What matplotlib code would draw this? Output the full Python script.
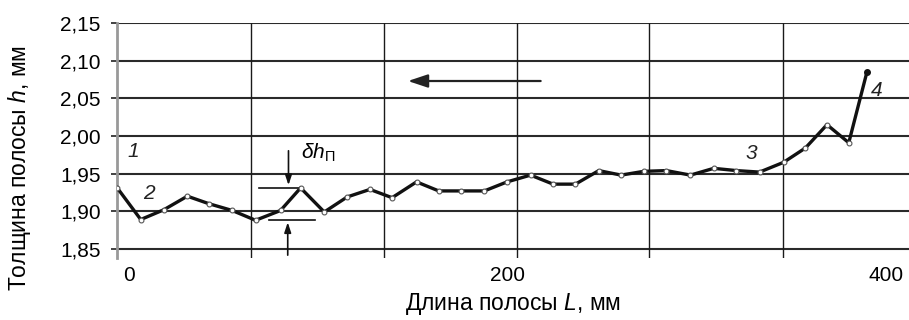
import matplotlib
matplotlib.use('Agg')
import matplotlib.pyplot as plt
from matplotlib.ticker import FixedLocator, FuncFormatter

plt.rcParams['font.family'] = ['Liberation Sans', 'DejaVu Sans']
plt.rcParams['mathtext.fontset'] = 'custom'
plt.rcParams['mathtext.rm'] = 'Liberation Sans'
plt.rcParams['mathtext.it'] = 'Liberation Sans:italic'

# strip length, mm and thickness, mm
length_mm = [-6, 6.4, 18.6, 31.0, 42.4, 54.7, 67.0, 80.2, 90.8, 103.3, 115.4,
             127.4, 139.1, 152.0, 163.7, 175.7, 187.8, 199.8, 212.2, 224.1,
             235.9, 248.2, 260.0, 271.9, 283.9, 296.6, 308.9, 320.9, 333.1,
             345.8, 357.3, 368.7, 380.2, 389.8]
thickness = [1.931, 1.889, 1.902, 1.920, 1.910, 1.901, 1.888, 1.901, 1.931,
             1.899, 1.919, 1.929, 1.918, 1.939, 1.927, 1.927, 1.927, 1.939,
             1.948, 1.936, 1.936, 1.954, 1.948, 1.953, 1.954, 1.948, 1.957,
             1.954, 1.952, 1.965, 1.984, 2.015, 1.991, 2.085]

y_ticks = [1.85, 1.90, 1.95, 2.00, 2.05, 2.10, 2.15]
x_ticks = [0, 200, 400]
x_grid = [64.7, 134.9, 205.1, 274.7, 345.4]

fig = plt.figure(figsize=(9.09, 3.2), dpi=100)
ax = fig.add_axes([0.129, 0.194, 0.871, 0.734])

for y in y_ticks:
    ax.axhline(y, color='#2a2a2a', lw=1.5, zorder=1)
for x in x_grid:
    ax.axvline(x, color='#1a1a1a', lw=1.0, zorder=1)

ax.plot(length_mm, thickness, color='#111111', lw=2.4, zorder=3)
ax.plot(length_mm[:-1], thickness[:-1], 'o', ms=3.5, mfc='white', mec='#555555',
        mew=0.8, zorder=4)
ax.plot(length_mm[-1], thickness[-1], 'o', ms=4, color='#111111', zorder=4)

# curve labels
for txt, x, y in [('1', 2.6, 1.979), ('2', 10.5, 1.924), ('3', 329, 1.977), ('4', 395, 2.060)]:
    ax.text(x, y, txt, fontsize=15, style='italic', ha='center', va='center', color='#222222')

# rolling direction arrow
ax.annotate('', xy=(146, 2.073), xytext=(219, 2.073),
            arrowprops=dict(arrowstyle='-|>,head_length=1.2,head_width=0.4',
                            color='#222222', lw=1.6))

# thickness variation marker
ax.plot([69, 90.8], [1.931, 1.931], color='#111111', lw=1.2, zorder=2)
ax.plot([73.9, 98.3], [1.889, 1.889], color='#111111', lw=1.2, zorder=2)
ax.annotate('', xy=(84.4, 1.931), xytext=(84.4, 1.984),
            arrowprops=dict(arrowstyle='-|>,head_length=0.6,head_width=0.2',
                            color='#111111', lw=1.2))
ax.annotate('', xy=(84, 1.889), xytext=(84, 1.838),
            arrowprops=dict(arrowstyle='-|>,head_length=0.6,head_width=0.2',
                            color='#111111', lw=1.2), annotation_clip=False)
ax.text(91, 1.978, r'$\delta h_{\mathrm{П}}$', fontsize=15, ha='left', va='center')

ax.set_xlim(-6, 412)
ax.set_ylim(1.838, 2.15)
for s in ['top', 'right', 'bottom']:
    ax.spines[s].set_visible(False)
ax.spines['left'].set_color('#999999')
ax.spines['left'].set_linewidth(2)

ax.yaxis.set_major_locator(FixedLocator(y_ticks))
ax.yaxis.set_major_formatter(FuncFormatter(lambda v, p: f'{v:.2f}'.replace('.', ',')))
ax.xaxis.set_major_locator(FixedLocator(x_ticks))
ax.tick_params(axis='y', length=4, width=1.2, color='#222222', labelsize=15, pad=8)
ax.tick_params(axis='x', length=0, labelsize=15, pad=6)

ax.set_xlabel('Длина полосы $\\it{L}$, мм', fontsize=16.5, labelpad=4)
ax.set_ylabel('Толщина полосы $\\it{h}$, мм', fontsize=16.5)
ax.yaxis.set_label_coords(-0.107, 0.383)

fig.savefig('out.png', dpi=100)
